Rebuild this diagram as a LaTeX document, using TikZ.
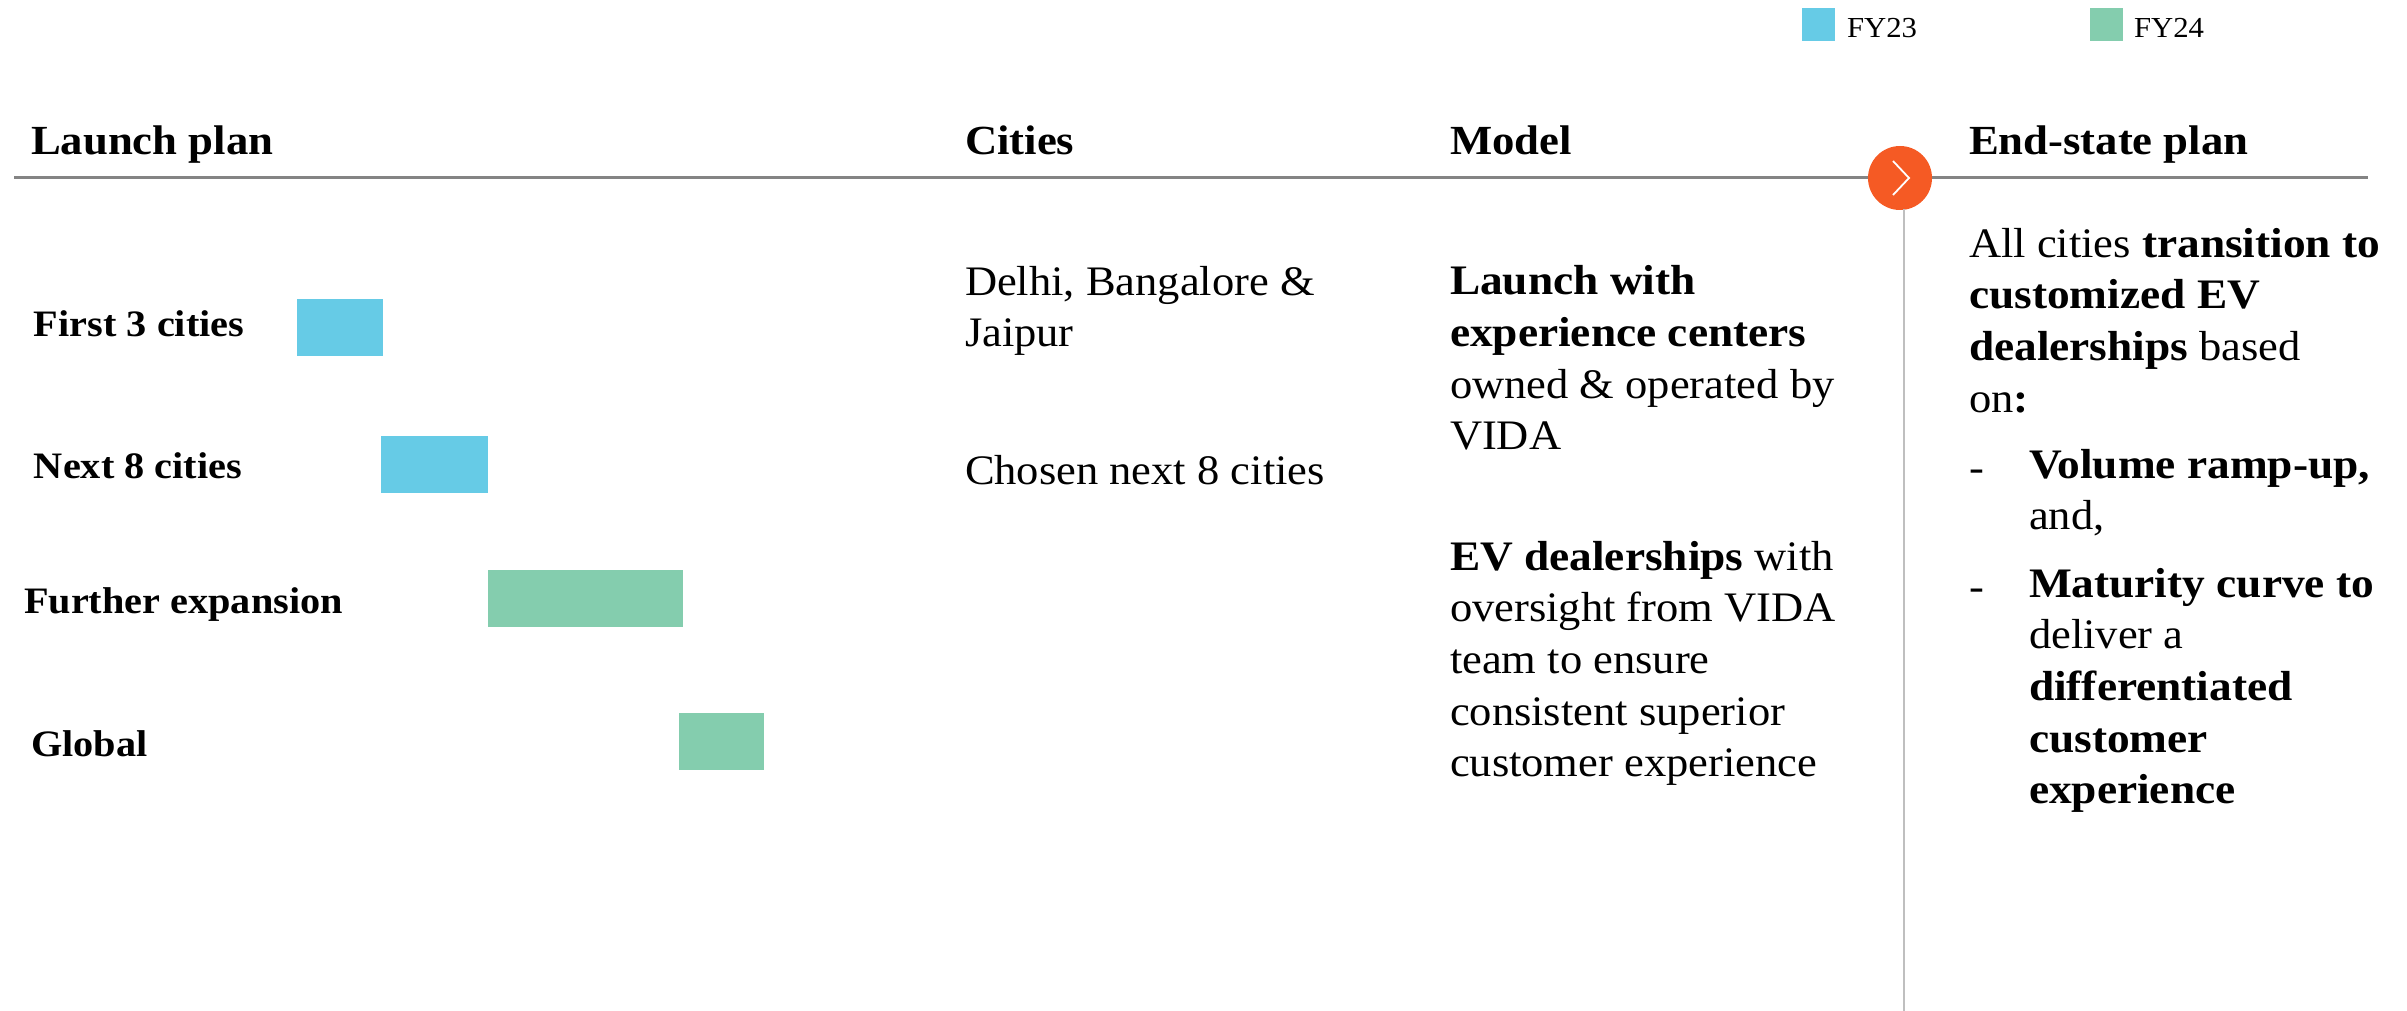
\documentclass[tikz,border=0pt]{standalone}
\usepackage{fontspec}
\setmainfont[FakeStretch=1.06,BoldFeatures={FakeStretch=1.08}]{Liberation Serif}
\definecolor{fyblue}{HTML}{66CBE6}
\definecolor{fygreen}{HTML}{84CDAE}
\definecolor{accent}{HTML}{F55A24}
\definecolor{rulegray}{HTML}{848484}
\definecolor{vlinegray}{HTML}{BFBFBF}
\tikzset{
  txt/.style={anchor=north west,inner sep=0pt,outer sep=0pt,align=left,text=black,execute at begin node=\strut},
  body/.style={txt,font=\fontsize{42}{51.7}\selectfont},
  head/.style={txt,font=\fontsize{41.4}{51.7}\selectfont\bfseries},
  rowlabel/.style={txt,font=\fontsize{37.3}{51.7}\selectfont\bfseries},
  legend/.style={txt,font=\fontsize{29}{51.7}\selectfont}
}
\begin{document}
\begin{tikzpicture}[x=1pt,y=-1pt]
\useasboundingbox (0,0) rectangle (2407,1011);
% legend
\fill[fyblue] (1802,8) rectangle (1835,41);
\fill[fygreen] (2090,8) rectangle (2123,41);
\node[legend] (l23) at (1847,1) {FY23};
\node[legend] (l24) at (2134,1) {FY24};
% rule and vertical
\coordinate (rl) at (14,177.5);
\coordinate (rr) at (2368,177.5);
\coordinate (vb) at (1904,1011);
\draw[rulegray,line width=2.2pt] (rl) -- (rr);
\node[circle,fill=accent,minimum size=64pt,inner sep=0pt] (circ) at (1900,178) {};
\draw[vlinegray,line width=1.8pt] (1904,209) -- (vb);
\draw[white,line width=1.8pt] (1893,161) -- (1909,178) -- (1893,195);
% headers
\node[head] (h1) at (31,118.3) {Launch plan};
\node[head] (h2) at (965,118.3) {Cities};
\node[head] (h3) at (1450,118.3) {Model};
\node[head] (h4) at (1969,118.3) {End-state plan};
% bars
\fill[fyblue] (297,299) rectangle (382.5,356);
\fill[fyblue] (380.5,436) rectangle (488,493);
\fill[fygreen] (488,570) rectangle (683,627);
\fill[fygreen] (679,713) rectangle (764,770);
% row labels
\node[rowlabel] (r1) at (34,300.5) {First 3 cities};
\node[rowlabel] (r2) at (34,442) {Next 8 cities};
\node[rowlabel] (r3) at (24,577) {Further expansion};
\node[rowlabel] (r4) at (31,720) {Global};
% cities
\node[body] (c1) at (965,266) {Delhi, Bangalore \&\\Jaipur};
\node[body] (c2) at (965,448) {Chosen next 8 cities};
% model
\node[body] (m1) at (1450,265.5) {\textbf{Launch with}\\\textbf{experience centers}\\owned \& operated by\\VIDA};
\node[body] (m2) at (1450,541) {\textbf{EV dealerships} with\\oversight from VIDA\\team to ensure\\consistent superior\\customer experience};
% end state
\node[body] (e1) at (1969,228) {All cities \textbf{transition to}\\\textbf{customized EV}\\\textbf{dealerships} based\\on\textbf{:}};
\node[body] (d1) at (1969,445) {-};
\node[body] (e2) at (2029,449) {\textbf{Volume ramp-up,}\\and,};
\node[body] (d2) at (1969,564) {-};
\node[body] (e3) at (2029,568) {\textbf{Maturity curve to}\\deliver a\\\textbf{differentiated}\\\textbf{customer}\\\textbf{experience}};
\end{tikzpicture}
\end{document}
